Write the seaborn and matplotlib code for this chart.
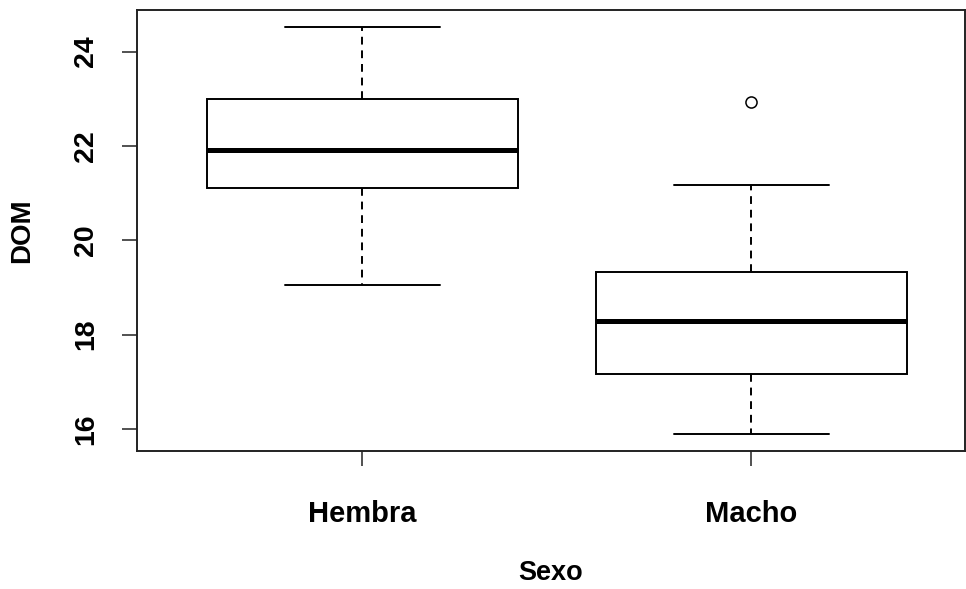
import matplotlib
matplotlib.use("Agg")
import matplotlib.pyplot as plt
import seaborn as sns
import pandas as pd

# Data
hembra_dom = [19.05, 20.4, 21.10, 21.6, 21.92, 22.5, 22.99, 23.8, 24.52]
macho_dom = [15.89, 16.6, 17.16, 17.8, 18.29, 18.9, 19.33, 21.17, 22.92]
categories = ["Hembra", "Macho"]
y_ticks = [16, 18, 20, 22, 24]

df = pd.DataFrame({
    "Sexo": [categories[0]] * len(hembra_dom) + [categories[1]] * len(macho_dom),
    "DOM": hembra_dom + macho_dom,
})

sns.set_theme(style="ticks")
plt.rcParams["font.family"] = ["Liberation Sans", "DejaVu Sans"]
plt.rcParams["font.weight"] = "bold"
plt.rcParams["text.color"] = "black"
plt.rcParams["axes.labelcolor"] = "black"
plt.rcParams["xtick.color"] = "black"
plt.rcParams["ytick.color"] = "black"
plt.rcParams["xtick.labelcolor"] = "black"
plt.rcParams["ytick.labelcolor"] = "black"

fig = plt.figure(figsize=(9.66, 5.89), dpi=100)
ax = fig.add_axes([0.1415, 0.2343, 0.999 - 0.1415, 0.983 - 0.2343])

sns.boxplot(
    data=df, x="Sexo", y="DOM", order=categories, ax=ax,
    color="white", linecolor="black", saturation=1, width=0.8,
    linewidth=1.4,
    whiskerprops=dict(linestyle=(0, (4, 3)), linewidth=1.4, color="black"),
    capprops=dict(linewidth=1.4, color="black"),
    medianprops=dict(linewidth=3.6, color="black"),
    boxprops=dict(edgecolor="black", facecolor="white", linewidth=1.4),
    flierprops=dict(marker="o", markerfacecolor="none", markeredgecolor="black",
                    markersize=8, markeredgewidth=1.1),
)

ax.set_xlim(-0.5805, 1.549)
ax.set_ylim(15.53, 24.88)
ax.set_yticks(y_ticks)
ax.set_yticklabels([str(t) for t in y_ticks], rotation=90, va="center",
                   fontsize=20.5, fontweight="bold", color="black")
ax.set_xticks([0, 1])
ax.set_xticklabels(categories, fontsize=21, fontweight="bold", color="black")

ax.tick_params(axis="both", direction="out", length=11, width=1.1, color="#222222")
ax.tick_params(axis="x", pad=24)
ax.tick_params(axis="y", pad=16)

for s in ax.spines.values():
    s.set_visible(True)
    s.set_linewidth(1.4)
    s.set_color("#222222")

ax.set_xlabel("Sexo", fontsize=19.5, fontweight="bold", color="black")
ax.xaxis.label.set_va("baseline")
ax.xaxis.set_label_coords(0.5, -0.2925)
ax.set_ylabel("DOM", fontsize=20, fontweight="bold", color="black")
ax.yaxis.label.set_va("center")
ax.yaxis.set_label_coords(-0.138, 0.5)

ax.set_facecolor("white")
fig.patch.set_facecolor("white")
fig.savefig("out.png", dpi=100)
